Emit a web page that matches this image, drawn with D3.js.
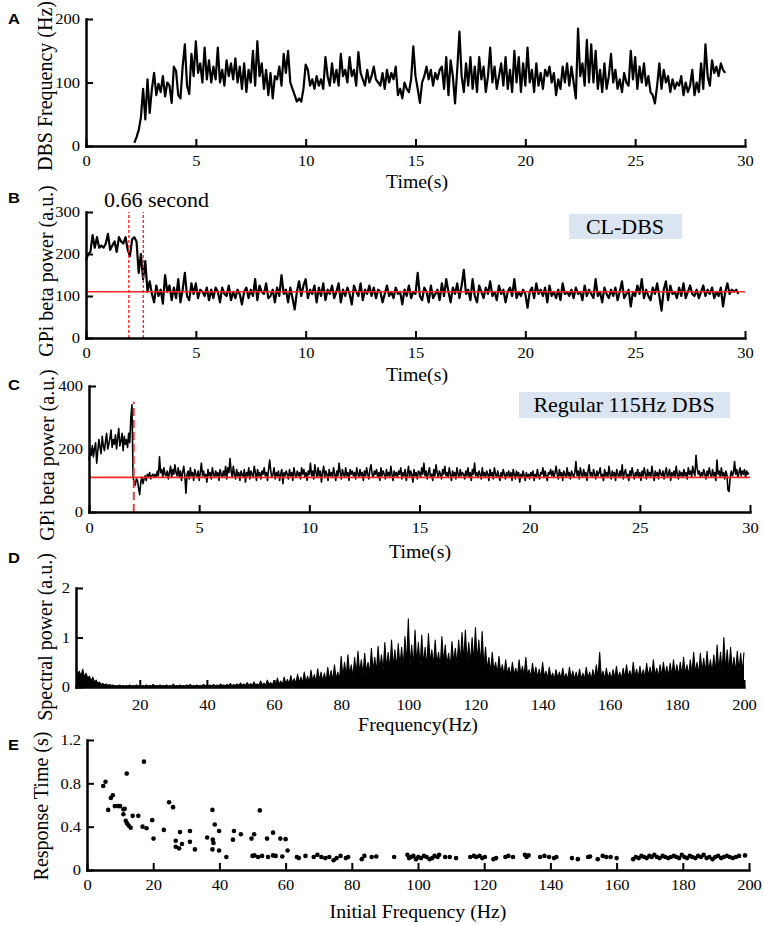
<!DOCTYPE html>
<html>
<head>
<meta charset="utf-8">
<style>
  body { margin: 0; background: #fff; }
  svg { display: block; }
  svg text { font-family: 'Liberation Serif', 'Times New Roman', serif; fill: #000; }
  .letter { font-family: 'Liberation Sans', Arial, sans-serif; font-weight: bold; }
</style>
</head>
<body>
<svg width="764" height="925"></svg>
<script src="https://d3js.org/d3.v7.min.js"></script>
<script>

// A: DBS frequency (Hz), sampled every 0.1 s from 2.2 s
var dbsStart = 2.2, dbsStep = 0.1;
var dbsFreq = [5,14,25,45,90,42,105,52,
  90,115,80,98,85,110,78,100,95,68,
  125,118,80,75,125,160,95,82,145,110,
  165,115,130,100,155,105,135,100,125,105,
  155,100,120,95,135,110,130,105,138,100,
  125,90,130,85,120,100,150,95,165,110,
  130,90,120,80,115,75,110,105,125,95,
  145,115,150,100,90,80,70,75,70,90,
  128,120,95,105,90,110,95,105,90,140,
  110,95,130,100,120,95,145,110,120,100,
  140,110,120,95,148,115,105,95,120,100,
  110,125,105,100,95,115,90,120,100,115,
  105,125,80,90,75,100,90,85,105,157,
  110,90,68,100,110,125,105,120,95,115,
  105,120,125,90,140,80,135,110,67,120,
  180,110,85,130,95,140,90,125,85,140,
  105,125,85,110,155,100,125,90,110,130,
  95,140,90,120,85,150,100,140,85,130,
  95,155,100,120,85,130,95,115,90,120,
  110,125,100,115,80,105,90,125,100,130,
  95,125,100,75,185,110,130,95,167,100,
  160,100,150,90,120,85,130,90,110,145,
  100,120,90,105,85,115,100,95,150,105,
  140,90,125,100,130,95,110,85,80,67,
  95,130,90,120,100,110,85,105,90,100,
  95,110,80,100,85,95,120,80,100,85,
  130,90,160,110,95,135,115,125,110,130,
  120,115];

// B: GPi beta power under CL-DBS, every 0.1 s from 0 s
var clStep = 0.1;
var clBeta = [185,200,205,245,215,240,215,220,215,225,
  248,210,220,230,205,240,230,225,240,210,
  195,235,240,230,155,200,140,183,110,135,
  105,85,125,100,115,82,150,110,125,90,
  120,95,140,85,115,155,100,90,130,105,
  130,95,115,110,100,120,90,115,95,120,
  110,85,120,105,100,125,90,110,95,115,
  105,80,110,120,95,115,100,140,90,125,
  110,105,130,95,100,115,85,120,100,150,
  105,115,85,120,95,68,110,135,100,125,
  140,95,115,105,125,85,120,100,130,90,
  115,105,125,95,110,130,85,115,100,120,
  105,80,125,110,100,130,90,115,105,125,
  100,120,95,115,110,85,105,125,100,110,
  95,120,105,110,80,115,100,125,95,110,
  105,155,100,90,120,110,85,125,95,105,
  115,90,130,100,140,110,85,120,105,130,
  95,125,162,105,115,90,140,100,85,125,
  110,95,120,105,135,100,110,90,125,105,
  115,85,110,120,100,140,95,110,100,115,
  105,72,110,120,95,130,105,115,100,120,
  85,125,100,110,95,115,90,130,105,110,
  100,115,95,120,105,110,90,125,100,115,
  105,95,140,100,110,85,120,105,95,115,
  100,120,90,110,135,95,105,115,75,110,
  100,125,105,140,95,115,100,90,120,105,
  130,100,65,115,135,90,125,105,110,95,
  120,100,130,95,110,125,105,100,115,95,
  110,125,100,115,105,120,95,110,100,120,
  75,110,130,105,115,110,115,105];
var clMarks = [1.95, 2.61];

// C: GPi beta power under regular 115 Hz DBS, every 0.05 s from 0 s
var regStep = 0.05;
var regBeta = [165,190,180,210,175,200,220,155,195,230,205,185,240,210,195,225,250,200,215,235,
  260,205,230,215,245,200,235,265,210,225,250,195,240,215,230,205,250,220,300,340,
  110,95,85,105,100,75,55,95,110,90,105,115,100,120,110,125,105,115,120,110,
  120,110,130,115,175,125,135,110,140,120,115,130,105,125,145,110,135,120,150,125,
  115,140,110,130,100,125,145,115,60,120,130,105,140,115,125,100,135,120,110,130,
  100,125,155,115,130,110,120,95,135,115,125,105,140,120,110,130,115,125,100,135,
  120,110,130,115,145,105,140,125,170,130,110,145,120,105,135,115,125,100,130,120,
  110,135,95,125,115,140,105,130,120,110,145,125,100,135,115,125,105,130,120,140,
  115,125,100,135,165,130,110,120,140,105,125,115,130,100,120,135,90,125,115,130,
  120,105,135,115,125,100,140,120,110,130,115,125,105,140,120,135,110,125,100,130,
  120,155,115,130,105,150,125,110,140,115,130,95,125,145,110,130,120,100,135,115,
  125,110,140,120,100,130,115,155,125,105,135,120,110,140,115,125,100,135,120,130,
  115,125,105,140,120,110,135,115,125,100,130,115,140,120,105,135,150,120,110,130,
  120,135,110,125,100,140,115,130,120,105,135,115,125,110,145,120,100,130,115,125,
  110,130,120,140,105,125,115,135,100,120,145,110,130,120,95,135,115,125,105,130,
  125,110,140,120,155,115,130,105,125,140,110,120,100,135,115,150,125,110,130,120,
  105,135,120,145,115,125,110,140,120,100,130,115,125,105,140,120,110,135,115,125,
  120,105,130,115,140,110,125,100,135,120,155,115,125,110,130,120,105,140,115,125,
  110,130,120,100,135,115,125,105,140,120,110,130,115,100,125,110,135,120,105,125,
  115,130,110,125,100,135,120,105,130,115,125,95,120,110,130,115,100,125,110,120,
  105,125,115,130,100,120,110,135,115,105,125,120,140,110,130,115,100,125,120,135,
  115,130,110,125,145,120,105,135,115,125,100,130,120,110,140,115,125,105,130,120,
  110,125,160,115,130,105,140,120,110,135,115,125,100,130,150,115,125,110,135,120,
  105,130,115,125,140,110,120,100,135,115,125,110,145,120,105,130,115,125,100,135,
  120,110,130,115,150,105,125,135,110,120,100,130,115,140,120,105,125,115,135,110,
  125,100,130,115,140,120,105,135,115,125,110,145,120,100,130,115,125,105,135,120,
  115,130,105,125,140,110,120,135,100,125,115,130,110,145,120,105,130,115,125,110,
  135,115,125,105,140,120,130,110,145,125,115,180,140,120,130,110,125,115,135,120,
  105,130,115,140,120,110,135,115,125,100,165,120,130,110,140,115,125,105,130,120,
  70,65,110,130,115,125,160,120,135,110,125,140,115,130,120,135,110,130,120,125];
var regMark = 2.03;
var betaThreshold = 110;

// D: spectral power (a.u.) as it reads per 0.5 Hz bin from 1 Hz
// (peak of the bin, then the solid body level of the next bin)
var specStart = 1, specStep = 0.5;
var spectrum = [.38,.25,.32,.22,.36,.2,.28,.18,.22,.12,.2,.1,.14,.07,.1,.05,.07,.04,.06,.03,
  .05,.03,.04,.02,.03,.02,.04,.02,.03,.02,.03,.02,.04,.02,.03,.02,.04,.02,.03,.02,
  .03,.02,.04,.02,.03,.02,.05,.02,.03,.02,.04,.02,.03,.02,.04,.02,.03,.02,.06,.02,
  .03,.02,.04,.02,.03,.02,.04,.02,.05,.02,.03,.02,.04,.02,.03,.02,.05,.02,.04,.02,
  .04,.02,.05,.02,.04,.02,.06,.03,.04,.02,.05,.03,.07,.02,.05,.03,.06,.03,.08,.03,
  .06,.03,.09,.03,.07,.03,.1,.04,.06,.03,.12,.04,.08,.03,.14,.05,.09,.04,.13,.05,
  .18,.06,.12,.05,.2,.07,.15,.06,.23,.08,.17,.07,.26,.09,.2,.08,.3,.1,.22,.09,
  .34,.12,.25,.1,.37,.13,.3,.12,.28,.11,.4,.14,.33,.13,.45,.16,.3,.14,.62,.2,
  .5,.22,.65,.25,.45,.2,.6,.26,.72,.28,.55,.25,.68,.3,.5,.27,.78,.32,.6,.3,
  .82,.35,.65,.32,.9,.38,.7,.35,.95,.4,.75,.38,.88,.42,.8,.4,1.02,.45,1.38,.42,
  .85,.4,1.15,.48,.9,.42,1.05,.45,.8,.4,1.08,.5,.75,.42,.95,.45,.7,.4,1.02,.48,
  .85,.45,.68,.4,.92,.5,.78,.45,.95,.5,1.1,.52,1.15,.5,.9,.48,1.0,.5,1.2,.52,
  .95,.45,1.12,.4,.8,.35,.6,.3,.7,.32,.5,.26,.62,.28,.45,.24,.55,.26,.4,.22,
  .5,.24,.38,.22,.55,.25,.42,.22,.6,.24,.35,.2,.48,.22,.4,.2,.36,.18,.5,.2,
  .32,.17,.4,.18,.28,.16,.35,.18,.3,.16,.38,.17,.27,.15,.4,.17,.32,.16,.3,.15,
  .36,.16,.28,.15,.4,.17,.3,.15,.35,.16,.45,.17,.7,.18,.32,.16,.38,.17,.3,.16,
  .35,.17,.42,.18,.3,.16,.38,.18,.45,.2,.33,.18,.5,.2,.36,.19,.42,.2,.35,.19,
  .48,.21,.4,.2,.55,.22,.38,.2,.45,.22,.5,.23,.42,.21,.48,.23,.55,.24,.45,.22,
  .5,.24,.6,.26,.45,.23,.55,.26,.7,.28,.5,.26,.68,.3,.58,.28,.72,.3,.55,.28,
  .65,.3,.85,.32,.7,.3,1.0,.33,.75,.3,.8,.32,.6,.3,.72,.32,.68,.3,.7];

// E: response time (s) against initial frequency (Hz)
var initFreq = [4.9,5.6,6.4,7.2,7.8,8.4,9.4,10.0,11.0,11.4,11.0,11.7,12.0,12.1,12.6,13.2,13.8,15.5,17.2,16.8,
  18.0,19.7,20.1,23.2,24.8,26.0,26.8,26.8,27.8,28.1,28.7,31.1,31.1,32.6,36.3,37.9,38.0,38.2,37.9,38.6,
  39.9,39.9,42.1,44.1,44.4,46.5,49.7,50.5,50.0,50.6,51.7,52.2,52.9,54.4,54.7,56.2,56.2,57.0,58.4,60.0,
  59.0,60.6,63.4,64.0,66.0,68.5,69.6,70.8,72.0,73.2,74.5,75.4,76.6,78.2,78.9,83.0,83.8,86.0,87.4,92.8,
  96.8,97.3,97.9,98.6,99.4,100.1,100.9,101.8,102.6,103.5,104.3,105.0,105.9,106.4,108.2,109.6,111.5,115.8,116.9,117.6,
  118.6,119.4,120.2,122.8,123.6,126.4,127.3,128.7,132.3,132.8,133.4,136.9,138.2,139.6,141.1,141.8,146.5,148.3,151.4,152.0,
  154.3,155.8,156.9,158.2,160.0,165.0,165.8,166.7,167.5,168.3,169.1,169.9,170.6,171.4,172.2,173.0,173.9,174.7,175.6,176.4,
  177.3,178.1,178.9,179.7,180.5,181.3,182.1,182.9,183.8,184.6,185.5,186.3,187.2,188.0,189.0,189.8,190.7,191.6,192.4,193.3,
  194.2,195.1,196.0,197.0,198.8];
var respTime = [.775,.815,.555,.665,.69,.59,.59,.59,.56,.565,.515,.455,.89,.43,.41,.39,.5,.5,1.0,.4,
  .385,.46,.29,.37,.625,.58,.27,.215,.2,.35,.24,.36,.26,.19,.3,.555,.28,.25,.19,.42,
  .36,.18,.12,.28,.36,.33,.29,.33,.13,.135,.12,.55,.13,.29,.12,.345,.135,.13,.29,.285,
  .125,.18,.12,.11,.13,.12,.14,.12,.11,.12,.09,.11,.13,.11,.12,.10,.13,.12,.125,.12,
  .14,.11,.12,.13,.10,.12,.11,.13,.12,.10,.11,.13,.12,.14,.12,.12,.11,.12,.13,.12,
  .13,.11,.12,.10,.11,.12,.13,.12,.14,.12,.135,.12,.13,.12,.11,.12,.11,.10,.12,.125,
  .10,.13,.12,.12,.11,.10,.12,.11,.13,.12,.11,.13,.12,.14,.12,.11,.13,.12,.11,.12,
  .13,.12,.11,.14,.12,.11,.13,.12,.11,.13,.12,.14,.11,.12,.10,.12,.13,.11,.12,.13,
  .12,.11,.12,.13,.135];

var svg = d3.select("svg");
var serif = "'Liberation Serif', 'Times New Roman', serif";
var SX = 1.1; // lettering in the figure is a little wide

function txt(x, y, s, size, anchor, cls) {
  return svg.append("text")
    .attr("class", cls || null)
    .attr("transform", "translate(" + x + "," + y + ") scale(" + SX + ",1)")
    .attr("text-anchor", anchor || "middle")
    .attr("font-size", size)
    .text(s);
}

function yTitle(x, y, s) {
  svg.append("text")
    .attr("transform", "translate(" + x + "," + y + ") scale(" + SX + ",1) rotate(-90)")
    .attr("text-anchor", "middle")
    .attr("dy", "0.35em")
    .attr("font-size", 20)
    .text(s);
}

function axes(x, y, xTicks, yTicks, xPad) {
  var gx = svg.append("g")
    .attr("transform", "translate(0," + y.range()[0] + ")")
    .call(d3.axisBottom(x).tickValues(xTicks).tickFormat(String)
      .tickSizeInner(-7).tickSizeOuter(0).tickPadding(xPad));
  var gy = svg.append("g")
    .attr("transform", "translate(" + x.range()[0] + ",0)")
    .call(d3.axisLeft(y).tickValues(yTicks).tickFormat(String)
      .tickSizeInner(-7).tickSizeOuter(0).tickPadding(6));
  [gx, gy].forEach(function (g) {
    g.attr("font-family", serif).attr("font-size", 15);
    g.select(".domain").attr("stroke-width", 2.5).attr("stroke-linecap", "square");
    g.selectAll(".tick line").attr("stroke-width", 2);
    g.selectAll(".tick text").attr("transform", "scale(" + SX + ",1)");
  });
  gy.selectAll(".tick text").attr("x", -6 / SX);
}

function trace(data, x, y, t0, dt, width) {
  svg.append("path")
    .datum(data)
    .attr("fill", "none")
    .attr("stroke", "#000")
    .attr("stroke-width", width)
    .attr("stroke-linejoin", "round")
    .attr("d", d3.line()
      .x(function (d, i) { return x(t0 + i * dt); })
      .y(function (d) { return y(d); }));
}

function redLine(x1, y1, x2, y2, width, dash) {
  svg.append("line")
    .attr("x1", x1).attr("y1", y1).attr("x2", x2).attr("y2", y2)
    .attr("stroke", "#ff2626")
    .attr("stroke-width", width)
    .attr("stroke-dasharray", dash || null);
}

var timeTicks = [0, 5, 10, 15, 20, 25, 30];

// ---- A ----
var xA = d3.scaleLinear().domain([0, 30]).range([86, 745]);
var yA = d3.scaleLinear().domain([0, 200]).range([146, 19]);
trace(dbsFreq, xA, yA, dbsStart, dbsStep, 2.2);
axes(xA, yA, timeTicks, [0, 100, 200], 9.5);
txt(8, 24, "A", 15, "start", "letter");
yTitle(44, 86, "DBS Frequency (Hz)");
txt(417, 182, "Time(s)", 18).attr("dy", "0.35em");

// ---- B ----
var xB = d3.scaleLinear().domain([0, 30]).range([86, 745]);
var yB = d3.scaleLinear().domain([0, 300]).range([338, 212]);
trace(clBeta, xB, yB, 0, clStep, 2.2);
redLine(xB(0), yB(betaThreshold), xB(30), yB(betaThreshold), 1.6);
clMarks.forEach(function (t) {
  redLine(xB(t), yB(0), xB(t), yB(300), 1.4, "3,2");
});
axes(xB, yB, timeTicks, [0, 100, 200, 300], 9.5);
svg.append("rect").attr("x", 569).attr("y", 214).attr("width", 113).attr("height", 25)
  .attr("fill", "#dbe5f1");
txt(625, 227, "CL-DBS", 20).attr("dy", "0.35em");
txt(8, 203, "B", 15, "start", "letter");
txt(104, 207, "0.66 second", 20, "start");
yTitle(45, 271, "GPi beta power (a.u.)");
txt(417, 375, "Time(s)", 18).attr("dy", "0.35em");

// ---- C ----
var xC = d3.scaleLinear().domain([0, 30]).range([89, 750]);
var yC = d3.scaleLinear().domain([0, 400]).range([512, 386]);
trace(regBeta, xC, yC, 0, regStep, 1.6);
redLine(xC(0), yC(betaThreshold), xC(30), yC(betaThreshold), 1.6);
redLine(xC(regMark), yC(0), xC(regMark), yC(350), 1.8, "8,4");
axes(xC, yC, timeTicks, [0, 200, 400], 10.5);
svg.append("rect").attr("x", 519).attr("y", 392).attr("width", 211).attr("height", 26)
  .attr("fill", "#dbe5f1");
txt(624, 405, "Regular 115Hz DBS", 20).attr("dy", "0.35em");
txt(8, 390, "C", 15, "start", "letter");
yTitle(46, 455, "GPi beta power (a.u.)");
txt(420, 552, "Time(s)", 18).attr("dy", "0.35em");

// ---- D ----
var xD = d3.scaleLinear().domain([1, 200]).range([76, 744]);
var yD = d3.scaleLinear().domain([0, 2]).range([687, 588]);
// dense spectrum reads as a filled black band with spikes on top
svg.append("path")
  .datum(spectrum)
  .attr("fill", "#000")
  .attr("d", d3.area()
    .x(function (d, i) { return xD(specStart + i * specStep); })
    .y0(yD(0))
    .y1(function (d) { return yD(d); }));
trace(spectrum, xD, yD, specStart, specStep, 1.1);
axes(xD, yD, d3.range(20, 201, 20), [0, 1, 2], 12);
txt(8, 563, "D", 15, "start", "letter");
yTitle(44, 637, "Spectral power (a.u.)");
txt(418, 725, "Frequency(Hz)", 18).attr("dy", "0.35em");

// ---- E ----
var xE = d3.scaleLinear().domain([0, 200]).range([87, 749]);
var yE = d3.scaleLinear().domain([0, 1.2]).range([870, 740]);
axes(xE, yE, d3.range(0, 201, 20), [0, 0.4, 0.8, 1.2], 9.5);
svg.append("g").selectAll("circle")
  .data(initFreq)
  .enter().append("circle")
  .attr("cx", function (d) { return xE(d); })
  .attr("cy", function (d, i) { return yE(respTime[i]); })
  .attr("r", 2.3)
  .attr("fill", "#000");
txt(8, 750, "E", 15, "start", "letter");
yTitle(40, 806, "Response Time (s)");
txt(418, 912, "Initial Frequency (Hz)", 18).attr("dy", "0.35em");

</script>
</body>
</html>
